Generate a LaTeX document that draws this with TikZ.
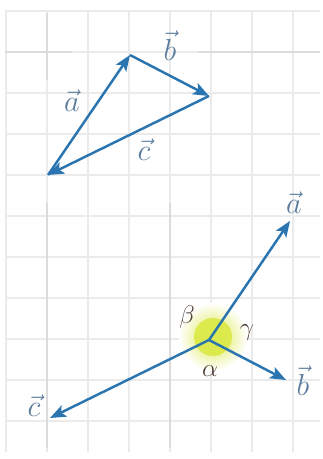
\documentclass[tikz,border=0pt]{standalone}
\usetikzlibrary{arrows.meta}
\definecolor{vecblue}{HTML}{2A74B0}
\definecolor{labblue}{HTML}{5B7C9C}
\definecolor{angbrown}{HTML}{4F4038}
\definecolor{glowyel}{HTML}{D6E62E}
\begin{document}
\begin{tikzpicture}[x=0.02cm, y=-0.02cm,
		vec/.style={draw=vecblue, line width=1.4pt, -{Stealth[length=9pt, width=7pt, inset=2pt]}},
		vlab/.style={text=labblue, font=\fontsize{17}{20}\selectfont},
		ang/.style={text=angbrown, font=\fontsize{15}{17}\selectfont},
		grid line/.style={draw=gray!16, line width=0.6pt},
		grid dark/.style={draw=gray!28, line width=0.6pt}]
		\useasboundingbox (0,0) rectangle (323,459);

		% grid paper
		\foreach \gx in {6,47,88,129,170,211,252,293}
			\draw[grid line] (\gx,11) -- (\gx,452);
		\foreach \gy in {11,52,93,134,175,216,257,298,339,380,421}
			\draw[grid line] (5,\gy) -- (320,\gy);
		\draw[grid dark] (5,52) -- (72,52);
		\draw[grid dark] (198,52) -- (320,52);
		\draw[grid dark] (47,13) -- (47,80);
		\draw[grid dark] (47,203) -- (47,448);
		\draw[grid dark] (170,203) -- (170,448);

		% triangle
		\begin{scope}
			\coordinate (A) at (48,175);
			\coordinate (B) at (130,55);
			\coordinate (C) at (209,96);
			\draw[vec] (A) -- (B);
			\draw[vec] (B) -- (C);
			\draw[vec] (C) -- (A);
			\node[vlab] (la) at (72,101) {$\vec{a}$};
			\node[vlab] (lb) at (170,46) {$\vec{b}$};
			\node[vlab] (lc) at (144,150) {$\vec{c}$};
		\end{scope}

		% vectors from one point
		\begin{scope}
			\coordinate (O) at (209,340);
			\shade[inner color=glowyel!90, outer color=white] (213,337) circle (34);
			\fill[glowyel!85] (213,337) circle (19);
			\coordinate (a) at (290,221);
			\coordinate (b) at (286,380);
			\coordinate (c) at (50,418);
			\draw[vec] (O) -- (a);
			\draw[vec] (O) -- (b);
			\draw[vec] (O) -- (c);
			\node[vlab] (na) at (294,203) {$\vec{a}$};
			\node[vlab] (nb) at (303,381) {$\vec{b}$};
			\node[vlab] (nc) at (34,406) {$\vec{c}$};
			\node[ang] (beta) at (187,317) {$\beta$};
			\node[ang] (gamma) at (247,333) {$\gamma$};
			\node[ang] (alpha) at (210,371) {$\alpha$};
		\end{scope}

	\end{tikzpicture}
\end{document}
